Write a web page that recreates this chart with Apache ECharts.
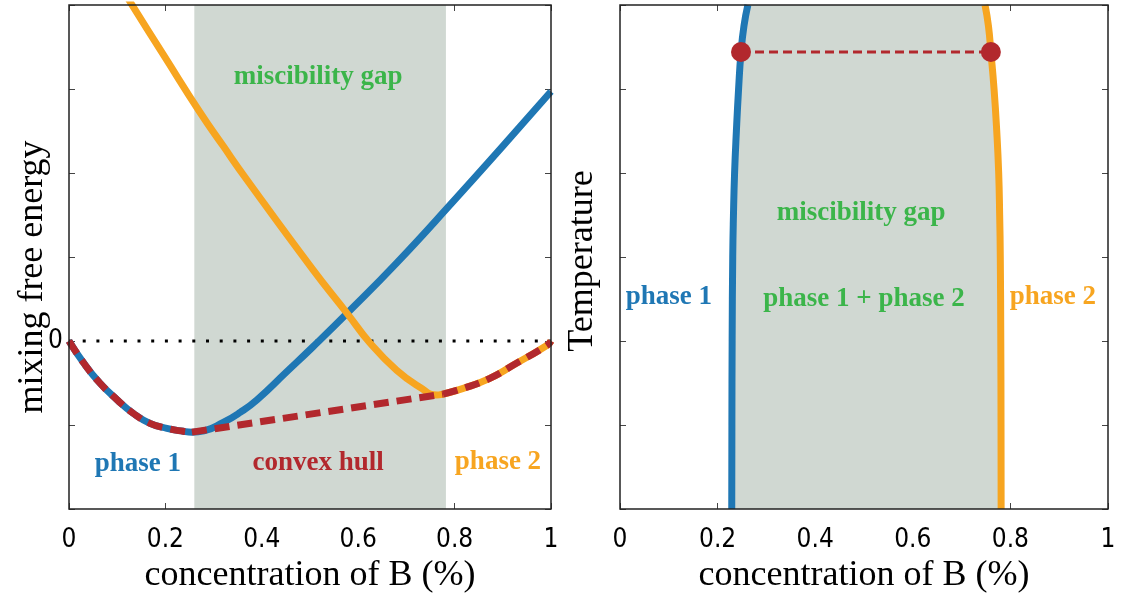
<!DOCTYPE html>
<html>
<head>
<meta charset="utf-8">
<script src="https://cdn.jsdelivr.net/npm/echarts@6/dist/echarts.min.js"></script>
<style>html,body{margin:0;padding:0;background:#fff}#c{width:1122px;height:595px}</style>
</head>
<body>
<div id="c"></div>
<script>
// ---- left panel: free energy curves ----
const phase1Conc   = [0, 0.029, 0.064, 0.10, 0.133, 0.168, 0.203, 0.237, 0.255, 0.28, 0.32, 0.355, 0.39, 0.45, 0.506, 0.577, 0.68, 0.80, 0.90, 1.0];
const phase1Energy = [0, -0.25, -0.50, -0.70, -0.86, -0.98, -1.04, -1.075, -1.085, -1.07, -0.97, -0.85, -0.70, -0.375, -0.07, 0.33, 0.93, 1.68, 2.32, 2.97];
const phase2Conc   = [0.12, 0.133, 0.20, 0.272, 0.32, 0.369, 0.506, 0.577, 0.624, 0.68, 0.728, 0.763, 0.776, 0.818, 0.873, 0.922, 0.992, 1.0];
const phase2Energy = [4.10, 3.98, 3.37, 2.72, 2.32, 1.92, 0.85, 0.33, -0.02, -0.35, -0.55, -0.644, -0.632, -0.564, -0.445, -0.286, -0.05, 0];
const hullLeftEnd  = 0.255;  // common tangent, phase 1 side
const hullRightEnd = 0.776;  // common tangent, phase 2 side
const gapRange     = [0.26, 0.782];

// ---- right panel: phase diagram ----
const tempLevels   = [0, 1, 2, 3, 3.5, 4, 4.5, 5, 5.44, 5.75, 6];
const binodal1Conc = [0.229, 0.2293, 0.2298, 0.231, 0.2325, 0.2348, 0.2385, 0.243, 0.248, 0.254, 0.262];
const binodal2Conc = [0.781, 0.7808, 0.7803, 0.7793, 0.778, 0.776, 0.772, 0.7665, 0.760, 0.755, 0.748];
const tieConc      = [0.248, 0.760];
const tieTemp      = [5.44, 5.44];

// ---- annotations ----
const leftLabels  = ['miscibility gap', 'phase 1', 'convex hull', 'phase 2'];
const leftLabelX  = [0.517, 0.143, 0.517, 0.89];
const leftLabelY  = [3.14, -1.46, -1.45, -1.44];
const rightLabels = ['miscibility gap', 'phase 1', 'phase 1 + phase 2', 'phase 2'];
const rightLabelX = [0.494, 0.100, 0.50, 0.887];
const rightLabelY = [3.52, 2.52, 2.50, 2.52];

const xTickLabels = ['0', '0.2', '0.4', '0.6', '0.8', '1'];

const BLUE = '#1f77b4', ORANGE = '#f7a520', RED = '#b2282d', GREEN = '#3bb54a', GAP = '#d0d8d2';
const leftColors  = [GREEN, BLUE, RED, ORANGE];
const rightColors = [GREEN, BLUE, GREEN, ORANGE];

const zip = (a, b) => a.map((v, i) => [v, b[i]]);
const phase1 = zip(phase1Conc, phase1Energy);
const phase2 = zip(phase2Conc, phase2Energy);
const hullPart1 = phase1.filter(p => p[0] <= hullLeftEnd);
const hullPart3 = phase2.filter(p => p[0] >= hullRightEnd);
const hullTangent = [hullPart1[hullPart1.length - 1], hullPart3[0]];
const bin1 = zip(binodal1Conc, tempLevels);
const bin2 = zip(binodal2Conc, tempLevels);

const tickFont = '"DejaVu Sans Condensed", "DejaVu Sans", sans-serif';
const serif = '"Liberation Serif", "DejaVu Serif", serif';

function xAx(grid, pos, withLabels) {
  return {
    type: 'value', gridIndex: grid, position: pos, min: 0, max: 1, interval: 0.2,
    axisLine: { show: false, onZero: false },
    axisTick: { show: true, inside: true, length: 6, lineStyle: { color: '#444', width: 1 } },
    splitLine: { show: false },
    axisLabel: { show: withLabels, margin: 18, fontSize: 26, fontFamily: tickFont, color: '#000',
      formatter: v => xTickLabels[Math.round(v * 5)] },
    name: withLabels ? 'concentration of B (%)' : '', nameLocation: 'middle', nameGap: 47,
    nameTextStyle: { fontFamily: serif, fontSize: 36, color: '#000' }
  };
}
function yAx(grid, pos, min, max, labelZero) {
  return {
    type: 'value', gridIndex: grid, position: pos, min: min, max: max, interval: 1,
    axisLine: { show: false, onZero: false },
    axisTick: { show: true, inside: true, length: 6, lineStyle: { color: '#444', width: 1 } },
    splitLine: { show: false },
    axisLabel: { show: labelZero, margin: 6, fontSize: 26, fontFamily: tickFont, color: '#000',
      formatter: v => (v === 0 ? '0' : '') }
  };
}
function labelSeries(xi, yi, names, xs, ys, colors) {
  return {
    type: 'scatter', xAxisIndex: xi, yAxisIndex: yi, symbolSize: 1, silent: true, z: 6,
    itemStyle: { color: 'rgba(0,0,0,0)', opacity: 1 },
    label: { show: true, position: 'inside', formatter: '{b}', fontFamily: serif, fontWeight: 'bold', fontSize: 27,
      textBorderWidth: 0, opacity: 1 },
    data: names.map((n, i) => ({ name: n, value: [xs[i], ys[i]], label: { color: colors[i] } }))
  };
}
function hullSeries(data, smooth) {
  return { type: 'line', xAxisIndex: 0, yAxisIndex: 0, symbol: 'none', smooth: smooth, data: data, z: 3,
    lineStyle: { color: RED, width: 7, type: [15, 8], cap: 'butt' } };
}

const gridBase = { show: true, z: 8, borderColor: '#222', borderWidth: 1.5, backgroundColor: 'rgba(0,0,0,0)',
  containLabel: false, outerBoundsMode: 'none' };

const chart = echarts.init(document.getElementById('c'), null, { renderer: 'canvas' });
chart.setOption({
  animation: false,
  backgroundColor: '#fff',
  grid: [
    Object.assign({ left: 69, top: 5, width: 482, height: 504 }, gridBase),
    Object.assign({ left: 620, top: 5, width: 488, height: 504 }, gridBase)
  ],
  xAxis: [xAx(0, 'bottom', true), xAx(0, 'top', false), xAx(1, 'bottom', true), xAx(1, 'top', false)],
  yAxis: [yAx(0, 'left', -2, 4, true), yAx(0, 'right', -2, 4, false), yAx(1, 'left', 0, 6, false), yAx(1, 'right', 0, 6, false)],
  graphic: [
    { type: 'text', x: 33, y: 277, rotation: Math.PI / 2, silent: true,
      style: { text: 'mixing free energy', fontFamily: serif, fontSize: 36, fill: '#000', align: 'center', verticalAlign: 'middle' } },
    { type: 'text', x: 583, y: 261, rotation: Math.PI / 2, silent: true,
      style: { text: 'Temperature', fontFamily: serif, fontSize: 36, fill: '#000', align: 'center', verticalAlign: 'middle' } }
  ],
  series: [
    // zero line + miscibility gap band
    { type: 'line', xAxisIndex: 0, yAxisIndex: 0, symbol: 'none', silent: true,
      data: [[0, 0], [1, 0]], lineStyle: { color: '#000', width: 3, type: [3, 10.7], cap: 'butt' },
      markArea: { silent: true, itemStyle: { color: GAP, opacity: 1 }, data: [[{ xAxis: gapRange[0] }, { xAxis: gapRange[1] }]] } },
    { type: 'line', xAxisIndex: 0, yAxisIndex: 0, symbol: 'none', smooth: 0.5, data: phase1,
      lineStyle: { color: BLUE, width: 7 } },
    { type: 'line', xAxisIndex: 0, yAxisIndex: 0, symbol: 'none', smooth: 0.5, data: phase2,
      lineStyle: { color: ORANGE, width: 7 } },
    hullSeries(hullPart1, 0.5),
    hullSeries(hullTangent, false),
    hullSeries(hullPart3, 0.5),
    labelSeries(0, 0, leftLabels, leftLabelX, leftLabelY, leftColors),

    // right panel fill
    { type: 'custom', xAxisIndex: 2, yAxisIndex: 2, silent: true, z: 1, data: [0],
      renderItem: (params, api) => {
        const pts = bin1.concat(bin2.slice().reverse()).map(p => api.coord(p));
        return { type: 'polygon', shape: { points: pts }, style: { fill: GAP } };
      } },
    { type: 'line', xAxisIndex: 2, yAxisIndex: 2, symbol: 'none', smooth: 0.5, data: bin1,
      lineStyle: { color: BLUE, width: 7 } },
    { type: 'line', xAxisIndex: 2, yAxisIndex: 2, symbol: 'none', smooth: 0.5, data: bin2,
      lineStyle: { color: ORANGE, width: 7 } },
    { type: 'line', xAxisIndex: 2, yAxisIndex: 2, symbol: 'none', data: zip(tieConc, tieTemp),
      lineStyle: { color: RED, width: 3, type: [9, 5] } },
    { type: 'scatter', xAxisIndex: 2, yAxisIndex: 2, symbolSize: 20, z: 4, data: zip(tieConc, tieTemp),
      itemStyle: { color: RED, opacity: 1 } },
    labelSeries(2, 2, rightLabels, rightLabelX, rightLabelY, rightColors)
  ]
});
</script>
</body>
</html>
